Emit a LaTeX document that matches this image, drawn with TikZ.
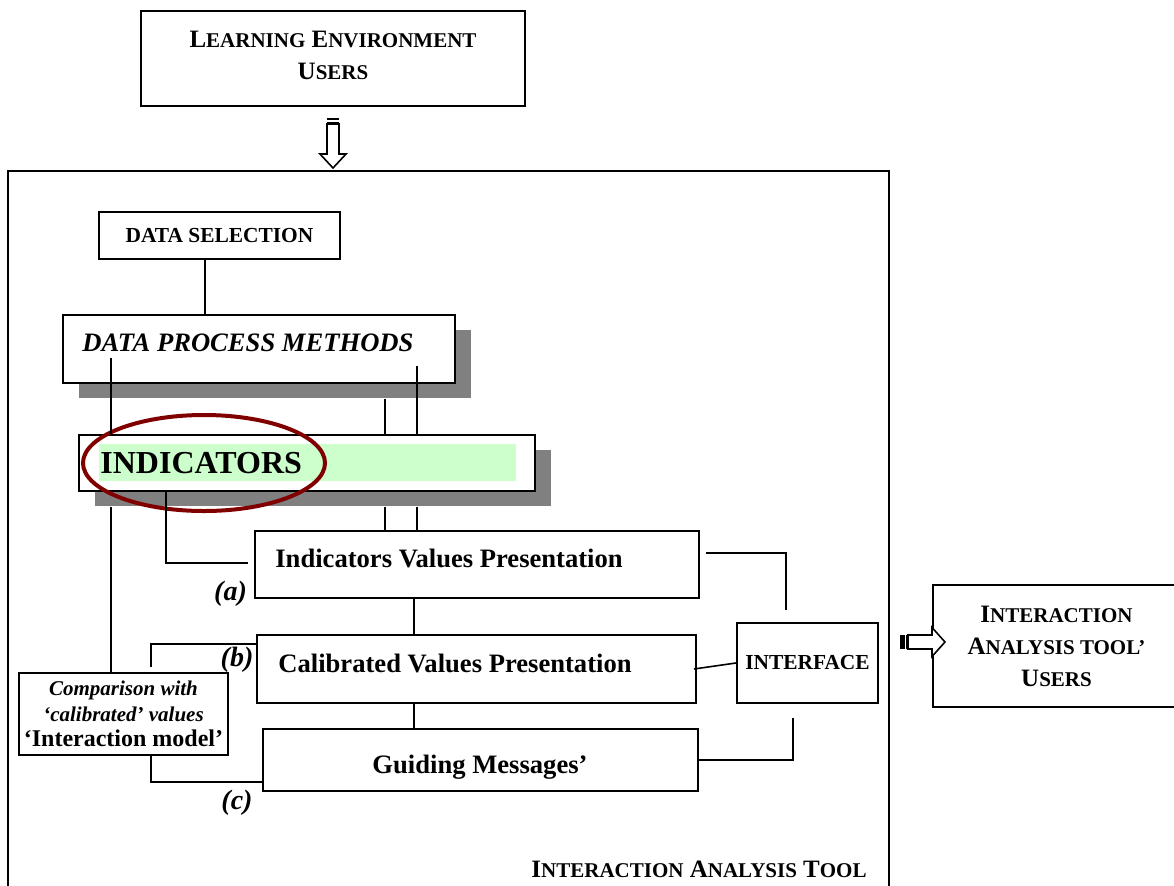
\documentclass[tikz,border=0pt]{standalone}
\usepackage{fontspec}
\setmainfont{Liberation Serif}
\usetikzlibrary{shapes.geometric, shadows, calc}
\definecolor{indgreen}{RGB}{204,255,204}
\definecolor{ringred}{RGB}{128,0,0}
\newcommand{\smc}[2]{#1{\fontsize{10.5pt}{12pt}\selectfont #2}}
\tikzset{box/.style={draw, line width=1pt, fill=white, inner sep=2pt, font=\bfseries}, % plain boxes
shadowed/.style={drop shadow={shadow xshift=8pt, shadow yshift=-7.5pt, fill=black!50, opacity=1}}, % grey shadow under a box
link/.style={line width=0.8pt}, % the connecting lines
lbl/.style={inner sep=0pt, font=\fontsize{13.3pt}{16pt}\selectfont\bfseries}, % text set inside a box
caps/.style={font=\fontsize{12.5pt}{16pt}\selectfont\bfseries}, % small caps titles
smallbox/.style={font=\fontsize{10.7pt}{12pt}\selectfont\bfseries}, % smaller box text
casetag/.style={font=\fontsize{14pt}{16pt}\selectfont\bfseries\itshape}, % (a) (b) (c)
}

\begin{document}
\begin{tikzpicture}[x=0.5pt, y=-0.5pt]
  \useasboundingbox (0,0) rectangle (1174,885);

  \node[box, minimum width=192pt, minimum height=47.5pt] (env) at (333,58.5) {};
  \node[caps, align=center, inner sep=0pt] (envtext) at (333,55) {\smc{L}{EARNING} \smc{E}{NVIRONMENT}\\ \smc{U}{SERS}};

  \begin{scope}[shift={(env.south)}]
    \fill (-6,11) rectangle (6,13);
    \fill (-6,14.5) rectangle (6,16);
    \draw[line width=0.8pt, fill=white] (-6,17) -- (-6,47) -- (-13,47) -- (0,61) -- (13,47) -- (6,47) -- (6,17) -- cycle;
  \end{scope}

  % the tool frame
  \draw[line width=1pt] (8,900) |- (889,171) -- (889,900);
  \node[caps] (tool) at (699,869) {\smc{I}{NTERACTION} \smc{A}{NALYSIS} \smc{T}{OOL}};

  \node[box, smallbox, minimum width=120.5pt, minimum height=23.5pt] (ds) at (219.5,235.5) {DATA SELECTION};

  \node[box, shadowed, minimum width=196pt, minimum height=34pt] (dpm) at (259,349) {};
  \node[lbl, anchor=base west, font=\fontsize{13.3pt}{16pt}\selectfont\bfseries\itshape] (dpmtext) at (82,351) {DATA PROCESS METHODS};

  \node[box, shadowed, minimum width=228pt, minimum height=28pt] (ind) at (307,463) {};
  \node[fill=indgreen, inner sep=0pt, minimum width=208.5pt, minimum height=18.5pt] (indfill) at (307.5,462.5) {};
  \node[lbl, anchor=base west, font=\fontsize{16pt}{18pt}\selectfont\bfseries] (indtext) at (100,473) {INDICATORS};
  \node[draw=ringred, line width=2pt, ellipse, inner sep=0pt, minimum width=121pt, minimum height=48pt] (ring) at (204,463) {};

  \node[box, minimum width=222pt, minimum height=33.5pt] (ivp) at (477,564.5) {};
  \node[lbl, anchor=base west] (ivptext) at (275,567) {Indicators Values Presentation};
  \node[box, minimum width=219.5pt, minimum height=34pt] (cvp) at (476.5,669) {};
  \node[lbl, anchor=base west] (cvptext) at (278,672) {Calibrated Values Presentation};
  \node[box, minimum width=217.5pt, minimum height=31pt] (gm) at (480.5,760) {};
  \node[lbl, anchor=base] (gmtext) at (480,773) {Guiding Messages'};

  \node[box, smallbox, minimum width=70.5pt, minimum height=40pt] (iface) at (807.5,663) {INTERFACE};

  \node[box, align=center, inner sep=0pt, minimum width=104.5pt, minimum height=41pt, font=\fontsize{10.5pt}{12.75pt}\selectfont\bfseries] (cmp) at (123.5,714) {\textit{Comparison with}\\ \textit{`calibrated' values}\\ {\fontsize{12pt}{12.75pt}\selectfont `Interaction model'}};

  \node[casetag] (la) at (230.5,594) {(a)};
  \node[casetag] (lb) at (237,660) {(b)};
  \node[casetag] (lc) at (237,803) {(c)};

  \node[box, caps, align=center, minimum width=123.5pt, minimum height=61pt] (users) at (1056.5,646) {\smc{I}{NTERACTION}\\ \smc{A}{NALYSIS TOOL'}\\ \smc{U}{SERS}};

  \begin{scope}[shift={($(users.west)+(0,-4)$)}]
    \fill (-32,-7) rectangle (-27,7);
    \fill (-26,-7) rectangle (-24,7);
    \draw[line width=0.8pt, fill=white] (-24,-7) -- (0,-7) -- (0,-14.5) -- (13,0) -- (0,14.5) -- (0,7) -- (-24,7) -- cycle;
  \end{scope}

  % columns of the vertical lines
  \coordinate (colA) at (111,0);
  \coordinate (colB) at (166,0);
  \coordinate (colC) at (151,0);
  \coordinate (colD) at (385,0);
  \coordinate (colE) at (417,0);
  \coordinate (colF) at (205,0);
  \coordinate (colG) at (786,0);
  \coordinate (colH) at (414,0);
  \coordinate (colJ) at (793,0);

  \draw[link] (colF |- ds.south) -- (colF |- dpm.north);
  \draw[link] ($(colA |- dpm.north)+(0,44)$) -- (colA |- ind.north);
  \draw[link] ($(colE |- dpm.north)+(0,52)$) -- (colE |- ind.north);
  \draw[link] ($(colD |- dpm.south)+(0,15)$) -- (colD |- ind.north);
  \draw[link] ($(colA |- ind.south)+(0,15)$) -- (colA |- cmp.north);
  \draw[link] ($(colD |- ind.south)+(0,15)$) -- (colD |- ivp.north);
  \draw[link] ($(colE |- ind.south)+(0,15)$) -- (colE |- ivp.north);
  \draw[link] (colB |- ind.south) |- ($(ivp.west)+(-6,-1.5)$);
  \draw[link] (colH |- ivp.south) -- (colH |- cvp.north);
  \draw[link] (colH |- cvp.south) -- (colH |- gm.north);
  \draw[link] ($(colC |- cmp.north)+(0,-5)$) |- ($(cvp.north west)+(0,10)$);
  \draw[link] (colC |- cmp.south) |- ($(gm.south west)+(0,-10)$);
  \draw[link] ($(ivp.north east)+(6,23)$) -| ($(colG |- iface.north)+(0,-12)$);
  \draw[link] ($(cvp.east)+(-3,0)$) -- (iface.west);
  \draw[link] (gm.east) -| ($(colJ |- iface.south)+(0,14)$);
\end{tikzpicture}
\end{document}
